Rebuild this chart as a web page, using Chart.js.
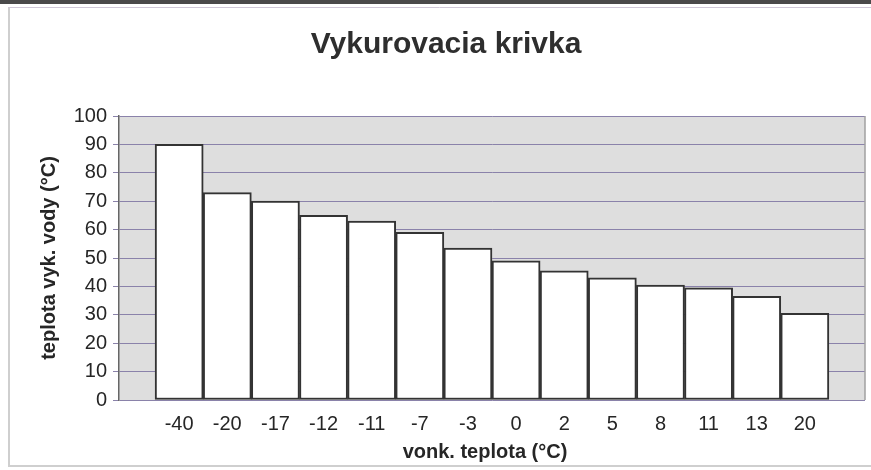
<!DOCTYPE html>
<html><head><meta charset="utf-8">
<script src="https://cdn.jsdelivr.net/npm/chart.js@4"></script>
<style>html,body{margin:0;padding:0;background:#fff}#wrap{width:871px;height:470px}</style>
</head><body><div id="wrap"><canvas id="c" width="871" height="470"></canvas></div>
<script>
const titleText = 'Vykurovacia krivka';
const xTitle = 'vonk. teplota (°C)';
const yTitle = 'teplota vyk. vody (°C)';
const categories = ['-40','-20','-17','-12','-11','-7','-3','0','2','5','8','11','13','20'];
const values = [90, 73, 70, 65, 63, 59, 53.5, 49, 45.5, 43, 40.5, 39.5, 36.5, 30.5];
const yTicks = [0, 10, 20, 30, 40, 50, 60, 70, 80, 90, 100];

const FONT = "'Liberation Sans', Arial, sans-serif";

const decor = {
  id: 'decor',
  beforeDraw(chart) {
    const {ctx, chartArea: a} = chart;
    ctx.save();
    ctx.fillStyle = '#fff';
    ctx.fillRect(0, 0, chart.width, chart.height);
    ctx.fillStyle = '#4a4a4a';
    ctx.fillRect(0, 0, chart.width, 4);
    ctx.strokeStyle = '#d0c8d8';
    ctx.lineWidth = 1;
    ctx.beginPath();
    ctx.moveTo(8, 7.5); ctx.lineTo(chart.width, 7.5);
    ctx.stroke();
    ctx.strokeStyle = '#cfcfcf';
    ctx.lineWidth = 2;
    ctx.beginPath();
    ctx.moveTo(9, 8); ctx.lineTo(9, 466); ctx.lineTo(chart.width, 466);
    ctx.stroke();
    ctx.fillStyle = '#dedede';
    ctx.fillRect(a.left, a.top, a.right - a.left, a.bottom - a.top);
    ctx.restore();
  },
  afterDraw(chart) {
    const {ctx, chartArea: a} = chart;
    ctx.save();
    ctx.strokeStyle = '#a0a0a0';
    ctx.lineWidth = 1.5;
    ctx.beginPath();
    ctx.moveTo(a.right, a.top); ctx.lineTo(a.right, a.bottom);
    ctx.stroke();
    ctx.fillStyle = '#2e2e2e';
    ctx.font = 'bold 30px ' + FONT;
    ctx.textAlign = 'center';
    ctx.textBaseline = 'middle';
    ctx.fillText(titleText, 446, 45);
    ctx.fillStyle = '#262626';
    ctx.font = 'bold 20px ' + FONT;
    ctx.fillText(xTitle, 485, 452);
    ctx.restore();
  }
};

new Chart(document.getElementById('c'), {
  type: 'bar',
  data: {
    datasets: [{
      data: values.map((v, i) => ({x: i, y: v})),
      backgroundColor: '#ffffff',
      borderColor: '#333333',
      borderWidth: 2,
      borderSkipped: false,
      barPercentage: 1,
      categoryPercentage: 1
    }]
  },
  options: {
    responsive: false,
    animation: false,
    devicePixelRatio: 1,
    layout: {padding: {top: 116, right: 6, left: 0, bottom: 0}},
    plugins: {legend: {display: false}, tooltip: {enabled: false}, title: {display: false}},
    scales: {
      x: {
        type: 'linear',
        offset: false,
        min: -1.25,
        max: 14.25,
        afterBuildTicks: s => { s.ticks = categories.map((c, i) => ({value: i})); },
        afterFit: s => { s.height = 70; },
        grid: {display: false},
        border: {display: false},
        ticks: {
          autoSkip: false, maxRotation: 0, padding: 4,
          color: '#262626', font: {family: FONT, size: 20},
          callback: v => categories[v]
        },
        title: {display: false}
      },
      y: {
        min: 0, max: 100,
        afterBuildTicks: s => { s.ticks = yTicks.map(v => ({value: v})); },
        afterFit: s => { s.width = 119; },
        grid: {color: '#8a82aa', lineWidth: 1, tickLength: 6},
        border: {color: '#666666', width: 1.5},
        ticks: {padding: 6, color: '#262626', font: {family: FONT, size: 20}},
        title: {display: true, text: yTitle, color: '#262626',
          font: {family: FONT, size: 20, weight: 'bold'}, padding: {top: 37, bottom: 0}}
      }
    }
  },
  plugins: [decor]
});
</script>
</body></html>
